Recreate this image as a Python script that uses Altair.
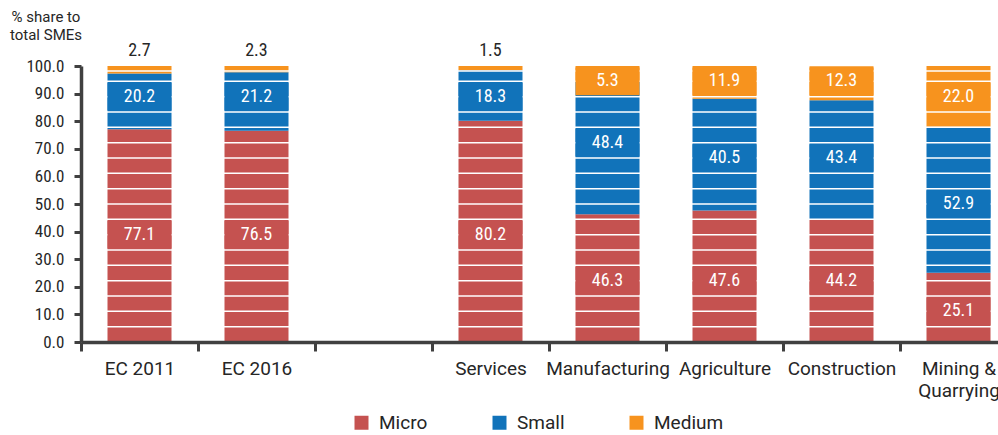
import altair as alt
import pandas as pd

# ---- data ----
CATEGORIES = ["EC 2011", "EC 2016", "Services", "Manufacturing",
              "Agriculture", "Construction", "Mining & Quarrying"]
GAP = " "
SERIES = ["Micro", "Small", "Medium"]
MICRO = [77.1, 76.5, 80.2, 46.3, 47.6, 44.2, 25.1]
SMALL = [20.2, 21.2, 18.3, 48.4, 40.5, 43.4, 52.9]
MEDIUM = [2.7, 2.3, 1.5, 5.3, 11.9, 12.3, 22.0]
Y_TICKS = [0, 10, 20, 30, 40, 50, 60, 70, 80, 90, 100]
# white separator lines seen across the bars
GRID_LINES = [5.56, 11.11, 16.67, 22.22, 27.78, 33.33, 38.89, 44.44, 50.0,
              55.56, 61.11, 66.67, 72.22, 77.78, 83.33, 88.89, 94.44, 98.2]

COLORS = ["#C55250", "#1173BA", "#F7931E"]
TEXT = "#262626"
AXC = "#404040"
NUM_FONT = "Roboto Condensed, Roboto"
LAB_FONT = "Roboto"

rows = []
for i, c in enumerate(CATEGORIES):
    for k, (s, vals) in enumerate(zip(SERIES, [MICRO, SMALL, MEDIUM])):
        rows.append({"cat": c, "series": s, "value": vals[i], "order": k})
df = pd.DataFrame(rows)
grid_df = pd.DataFrame({"g": GRID_LINES})

x_domain = CATEGORIES[:2] + [GAP] + CATEGORIES[2:]

xscale = alt.Scale(domain=x_domain, range=[0, 936], paddingInner=0, paddingOuter=0)
yscale = alt.Scale(domain=[0, 100], nice=False, zero=True)
cscale = alt.Scale(domain=SERIES, range=COLORS)

xaxis = alt.Axis(title=None, labelAngle=0, tickBand="extent", labelFont=LAB_FONT,
                 labelFontSize=19, labelColor=TEXT, labelPadding=8, tickSize=9,
                 tickWidth=3, tickColor=AXC, domainColor=AXC, domainWidth=3.5,
                 labelExpr="datum.value == 'Mining & Quarrying' ? ['Mining &', 'Quarrying'] : datum.value",
                 labelLineHeight=22, zindex=1, grid=False, labelOverlap=False)
yaxis = alt.Axis(title=None, values=Y_TICKS, format=".1f", labelFont=NUM_FONT,
                 labelFontSize=17, labelColor=TEXT, labelPadding=10, tickSize=7,
                 tickWidth=3, tickColor=AXC, domainColor=AXC, domainWidth=3.5,
                 grid=False, zindex=1)

X = alt.X("cat:N", scale=xscale, axis=xaxis, title=None)

bars = alt.Chart(df).mark_bar(width=64).encode(
    x=X,
    y=alt.Y("value:Q", stack="zero", scale=yscale, axis=yaxis, title=None),
    color=alt.Color("series:N", scale=cscale, legend=alt.Legend(
        title=None, orient="none", legendX=271, legendY=347, direction="horizontal",
        symbolType="square", symbolSize=196, symbolStrokeWidth=0,
        labelFont=LAB_FONT, labelFontSize=19, labelColor=TEXT, labelOffset=8,
        columnPadding=62, padding=0)),
    order=alt.Order("order:Q", sort="ascending"),
)

rules = alt.Chart(grid_df).mark_rule(color="white", strokeWidth=1.5).encode(
    y=alt.Y("g:Q", scale=yscale, axis=yaxis, title=None)
)

base_lab = alt.Chart(df).transform_stack(
    stack="value", groupby=["cat"], as_=["lo", "hi"],
    sort=[alt.SortField("order", order="ascending")]
).transform_calculate(
    mid="(datum.lo + datum.hi) / 2",
    ctr="min(round(datum.mid / (100/18)), 17) * (100/18)",
    blo="datum.ctr - 5.0",
    bhi="datum.ctr + 5.0",
)

boxes = base_lab.transform_filter("datum.value >= 5").mark_bar(width=64).encode(
    x=X,
    y=alt.Y("blo:Q", scale=yscale, axis=yaxis, title=None),
    y2="bhi:Q",
    color=alt.Color("series:N", scale=cscale, legend=None),
)

text_in = base_lab.transform_filter("datum.value >= 5").mark_text(
    font=NUM_FONT, fontSize=18, color="white", baseline="middle", align="center"
).encode(
    x=X,
    y=alt.Y("ctr:Q", scale=yscale, axis=yaxis, title=None),
    text=alt.Text("value:Q", format=".1f"),
)

text_out = base_lab.transform_filter("datum.value < 5").mark_text(
    font=NUM_FONT, fontSize=18, color=TEXT, baseline="bottom", align="center", dy=-6
).encode(
    x=X,
    y=alt.Y("hi:Q", scale=yscale, axis=yaxis, title=None),
    text=alt.Text("value:Q", format=".1f"),
)

chart = alt.layer(bars, rules, boxes, text_in, text_out).properties(
    width=917, height=276,
    autosize=alt.AutoSizeParams(type="none"),
    padding={"left": 81, "top": 66, "right": 0, "bottom": 93},
    title=alt.TitleParams(text=["% share to", "total SMEs"], anchor="start",
                          frame="group", align="center", dx=-35, dy=3,
                          font=LAB_FONT, fontSize=15, fontWeight="normal",
                          color=TEXT, offset=2, lineHeight=18),
).configure_view(stroke=None)

chart.save("out.html", embed_options={"renderer": "svg", "actions": False})
